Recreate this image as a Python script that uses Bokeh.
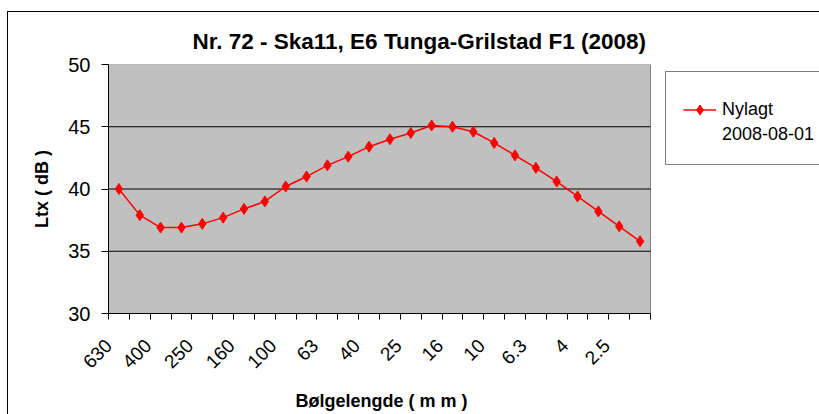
import math
from bokeh.plotting import figure
from bokeh.models import Range1d, FixedTicker, Legend, LegendItem, Title
from bokeh.embed import file_html
from bokeh.resources import INLINE

# ---------------- data ----------------
title_text = "Nr. 72 - Ska11, E6 Tunga-Grilstad F1 (2008)"
x_title = "Bølgelengde ( m m )"
y_title = "Ltx ( dB )"
categories = ["630", "500", "400", "315", "250", "200", "160", "125", "100", "80",
              "63", "50", "40", "31.5", "25", "20", "16", "12.5", "10", "8",
              "6.3", "5", "4", "3.15", "2.5", "2"]
ltx = [40.0, 37.9, 36.9, 36.9, 37.2, 37.7, 38.4, 39.0, 40.2, 41.0,
       41.9, 42.6, 43.4, 44.0, 44.5, 45.1, 45.0, 44.6, 43.7, 42.7,
       41.7, 40.6, 39.4, 38.2, 37.0, 35.8]
y_ticks = [30, 35, 40, 45, 50]
series_name = "Nylagt"
series_date = "2008-08-01"

FONT = "Liberation Sans"

# ---------------- layout (canvas px) ----------------
W, H = 819, 414
FL, FT, FB = 108, 64, 313          # frame left/top/bottom; frame runs to the right edge
PLOT_R = 650                        # right edge of the grey plot area
N = len(categories)
X_END = N * (W - FL) / (PLOT_R - FL)
LABEL_SHIFT = -0.6                  # category-label anchor shift (in category widths)

p = figure(width=W, height=H, output_backend="svg", toolbar_location=None,
           x_range=Range1d(0, X_END), y_range=Range1d(min(y_ticks), max(y_ticks)),
           min_border_left=FL, min_border_right=0,
           min_border_top=FT, min_border_bottom=H - FB)

p.background_fill_color = "white"
p.background_fill_alpha = 0
p.border_fill_color = "white"
p.border_fill_alpha = 0
p.outline_line_color = None
# outer chart-area border (top and left edges visible in the window)
p.styles = {"background": "linear-gradient(#000,#000) 7px 11px / 1px 600px no-repeat, "
                          "linear-gradient(#000,#000) 7px 11px / 1200px 1px no-repeat, #fff"}

# grey plot area spanning the category axis and value range
p.quad(left=[0], right=[N], bottom=[min(y_ticks)], top=[max(y_ticks)],
       fill_color="#C0C0C0", line_color="#808080", line_width=1, level="image")

# horizontal grid lines inside the plot area
grid_vals = y_ticks[1:-1]
p.xgrid.visible = False
p.ygrid.visible = False
p.segment(x0=[0] * len(grid_vals), x1=[N] * len(grid_vals), y0=grid_vals, y1=grid_vals,
          line_color="black", line_width=1)

# title
p.title.text = title_text
p.title.align = "left"
p.title.offset = 84
p.title.text_font = FONT
p.title.text_font_size = "22.5px"
p.title.text_font_style = "bold"
p.title.text_color = "black"
p.title.standoff = 22

# y axis
p.yaxis.ticker = FixedTicker(ticks=y_ticks)
p.yaxis.axis_line_color = "black"
p.yaxis.major_tick_line_color = "black"
p.yaxis.major_tick_out = 7
p.yaxis.major_tick_in = 0
p.yaxis.minor_tick_line_color = None
p.yaxis.major_label_text_font = FONT
p.yaxis.major_label_text_font_size = "20px"
p.yaxis.major_label_text_color = "black"
p.yaxis.major_label_standoff = 11
p.yaxis.axis_label = y_title
p.yaxis.axis_label_text_font = FONT
p.yaxis.axis_label_text_font_size = "18px"
p.yaxis.axis_label_text_font_style = "bold"
p.yaxis.axis_label_text_color = "black"
p.yaxis.axis_label_standoff = 13

# x axis (labels on every other category, tick marks on category borders)
xs = [i + 0.5 for i in range(N)]
shown = list(range(0, N, 2))
label_pos = [max(0.01, i + 0.5 + LABEL_SHIFT) for i in shown]
p.xaxis.bounds = (0, N)
p.xaxis.ticker = FixedTicker(ticks=label_pos, minor_ticks=list(range(N + 1)))
p.xaxis.major_label_overrides = {pos: categories[i] for pos, i in zip(label_pos, shown)}
p.xaxis.major_label_orientation = math.pi / 4
p.xaxis.axis_line_color = "black"
p.xaxis.major_tick_out = 0
p.xaxis.major_tick_in = 0
p.xaxis.minor_tick_out = 6
p.xaxis.minor_tick_in = 0
p.xaxis.minor_tick_line_color = "black"
p.xaxis.major_label_text_font = FONT
p.xaxis.major_label_text_font_size = "19px"
p.xaxis.major_label_text_color = "black"
p.xaxis.major_label_standoff = 23
# blank axis label only reserves vertical room above the x-axis title
p.xaxis.axis_label = " "
p.xaxis.axis_label_text_font = FONT
p.xaxis.axis_label_text_font_size = "4px"
p.xaxis.axis_label_standoff = 0

# x-axis title, centred under the plot area
p.add_layout(Title(text=x_title, align="left", offset=187, vertical_align="bottom",
                   standoff=6, text_font=FONT, text_font_size="18px",
                   text_font_style="bold", text_color="black"), "below")

# data
line_r = p.line(xs, ltx, line_color="#FF0000", line_width=1.5)
pts_r = p.scatter(xs, ltx, marker="diamond", size=11, fill_color="#FF0000",
                  line_color="#FF0000")

# legend (right of the plot area)
legend = Legend(items=[LegendItem(label=series_name, renderers=[line_r, pts_r]),
                       LegendItem(label=series_date, renderers=[])],
                location=(665 - FL, FB - 165), padding=17, margin=0, spacing=-2,
                title=" ", title_text_font_size="4px", title_standoff=3,
                border_line_color="black", border_line_width=1,
                background_fill_color="white", background_fill_alpha=1,
                glyph_width=33, glyph_height=25, label_height=25, label_standoff=6,
                label_text_font=FONT, label_text_font_size="18px",
                label_text_color="black")
p.add_layout(legend)

open("out.html", "w").write(file_html(p, INLINE))
